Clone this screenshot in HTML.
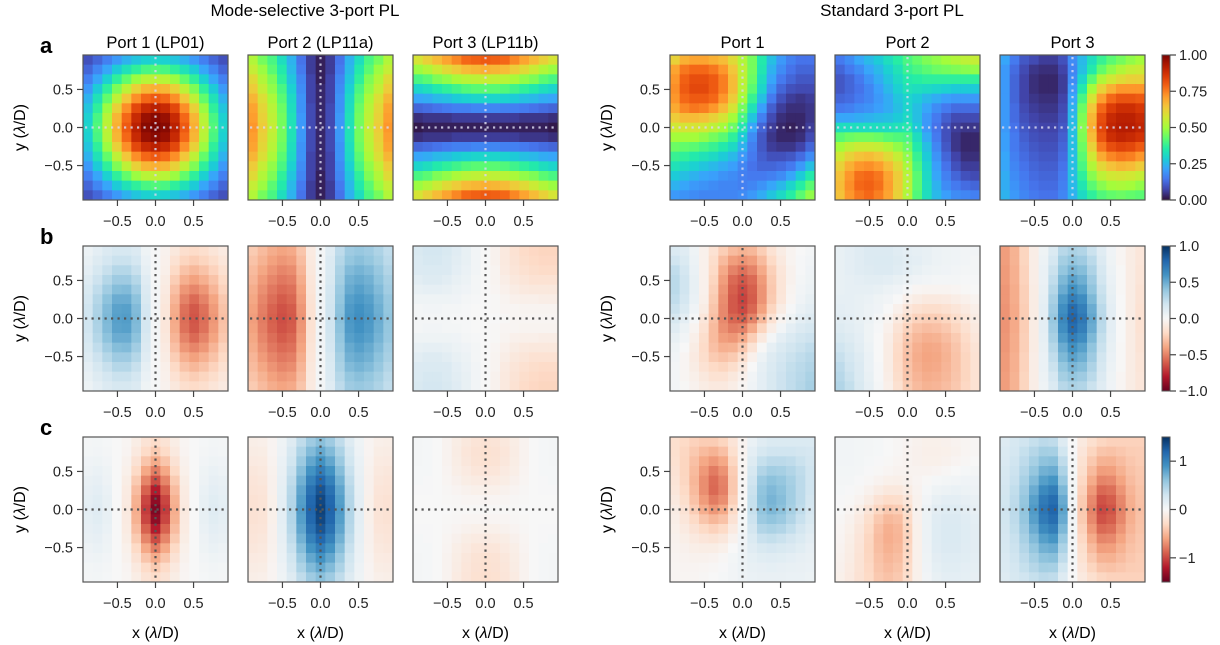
<!DOCTYPE html>
<html><head><meta charset="utf-8">
<style>
html,body{margin:0;padding:0;background:#fff;}
svg{display:block;font-family:"Liberation Sans",sans-serif;}
</style></head>
<body>
<svg id="fig" width="1220" height="645" viewBox="0 0 1220 645" xmlns="http://www.w3.org/2000/svg">
<defs id="defs"></defs>
<text x="305" y="16" font-size="17" text-anchor="middle">Mode-selective 3-port PL</text>
<text x="892" y="16" font-size="17" text-anchor="middle">Standard 3-port PL</text>
<text x="155.5" y="48" font-size="16.5" text-anchor="middle">Port 1 (LP01)</text>
<text x="320.5" y="48" font-size="16.5" text-anchor="middle">Port 2 (LP11a)</text>
<text x="485.5" y="48" font-size="16.5" text-anchor="middle">Port 3 (LP11b)</text>
<text x="742.5" y="48" font-size="16.5" text-anchor="middle">Port 1</text>
<text x="907.5" y="48" font-size="16.5" text-anchor="middle">Port 2</text>
<text x="1072.5" y="48" font-size="16.5" text-anchor="middle">Port 3</text>
<text x="40" y="53" font-size="22" font-weight="bold">a</text>
<text x="40" y="244" font-size="22" font-weight="bold">b</text>
<text x="40" y="435" font-size="22" font-weight="bold">c</text>
<g id="panels"></g>
</svg>
<script>
const xTickValues = [-0.5, 0, 0.5];
const xTickLabels = ["\u22120.5", "0.0", "0.5"];
const yTickValues = [0.5, 0, -0.5];
const yTickLabels = ["0.5", "0.0", "\u22120.5"];
const cbTicksA = [1.0, 0.75, 0.5, 0.25, 0.0];
const cbLabelsA = ["1.00", "0.75", "0.50", "0.25", "0.00"];
const cbTicksB = [1, 0.5, 0, -0.5, -1];
const cbLabelsB = ["1.0", "0.5", "0.0", "\u22120.5", "\u22121.0"];
const cbTicksC = [1, 0, -1];
const cbLabelsC = ["1", "0", "\u22121"];

const a1 = [
[9,12,16,20,24,27,29,30,29,27,24,20,16,12,9],
[12,17,22,28,33,37,40,41,40,37,33,28,22,17,12],
[16,22,29,37,43,49,53,54,53,49,43,37,29,22,16],
[20,28,37,46,54,62,67,68,67,62,54,46,37,28,20],
[24,33,43,54,64,73,78,80,78,73,64,54,43,33,24],
[27,37,49,62,73,83,89,91,89,83,73,62,49,37,27],
[29,40,53,67,78,89,96,98,96,89,78,67,53,40,29],
[30,41,54,68,80,91,98,100,98,91,80,68,54,41,30],
[29,40,53,67,78,89,96,98,96,89,78,67,53,40,29],
[27,37,49,62,73,83,89,91,89,83,73,62,49,37,27],
[24,33,43,54,64,73,78,80,78,73,64,54,43,33,24],
[20,28,37,46,54,62,67,68,67,62,54,46,37,28,20],
[16,22,29,37,43,49,53,54,53,49,43,37,29,22,16],
[12,17,22,28,33,37,40,41,40,37,33,28,22,17,12],
[9,12,16,20,24,27,29,30,29,27,24,20,16,12,9]];
const a2 = [
[52,45,40,32,24,14,6,2,6,14,24,32,40,45,52],
[55,49,42,35,25,15,6,2,6,15,25,35,42,49,55],
[60,52,46,37,27,17,7,2,7,17,27,37,46,52,60],
[63,55,48,40,29,18,7,3,7,18,29,40,48,55,63],
[67,59,51,42,31,19,7,3,7,19,31,42,51,59,67],
[70,61,53,44,32,19,8,3,8,19,32,44,53,61,70],
[71,62,54,45,33,20,8,3,8,20,33,45,54,62,71],
[72,63,55,45,33,20,8,3,8,20,33,45,55,63,72],
[71,62,54,45,33,20,8,3,8,20,33,45,54,62,71],
[70,61,53,44,32,19,8,3,8,19,32,44,53,61,70],
[67,59,51,42,31,19,7,3,7,19,31,42,51,59,67],
[63,55,48,40,29,18,7,3,7,18,29,40,48,55,63],
[60,52,46,37,27,17,7,2,7,17,27,37,46,52,60],
[55,49,42,35,25,15,6,2,6,15,25,35,42,49,55],
[52,45,40,32,24,14,6,2,6,14,24,32,40,45,52]];
const a3 = [
[58,62,66,70,74,78,79,80,79,78,74,70,66,62,58],
[49,52,56,60,63,66,67,68,67,66,63,60,56,52,49],
[40,42,46,48,51,53,54,55,54,53,51,48,46,42,40],
[30,32,35,37,39,41,42,42,42,41,39,37,35,32,30],
[22,23,25,26,28,29,30,30,30,29,28,26,25,23,22],
[12,13,14,15,16,16,17,17,17,16,16,15,14,13,12],
[4,5,5,5,6,6,6,6,6,6,6,5,5,5,4],
[1,2,2,2,2,2,2,2,2,2,2,2,2,2,1],
[4,5,5,5,6,6,6,6,6,6,6,5,5,5,4],
[12,13,14,15,16,16,17,17,17,16,16,15,14,13,12],
[22,23,25,26,28,29,30,30,30,29,28,26,25,23,22],
[30,32,35,37,39,41,42,42,42,41,39,37,35,32,30],
[40,42,46,48,51,53,54,55,54,53,51,48,46,42,40],
[49,52,56,60,63,66,67,68,67,66,63,60,56,52,49],
[58,62,66,70,74,78,79,80,79,78,74,70,66,62,58]];
const a4 = [
[62,68,70,70,68,66,60,52,45,35,26,20,16,14,14],
[70,76,78,78,76,72,64,54,45,34,24,18,14,12,12],
[72,79,82,82,80,75,66,54,44,32,22,15,12,10,10],
[73,80,83,83,80,75,66,53,42,30,19,12,9,8,8],
[72,78,80,80,78,72,63,50,38,26,15,9,6,5,6],
[69,74,76,75,72,66,58,45,33,21,11,6,4,4,5],
[63,66,66,65,62,58,50,40,27,16,8,4,3,3,5],
[57,58,58,57,54,50,44,34,22,12,6,3,2,3,6],
[50,50,50,48,45,42,37,28,18,10,5,3,3,4,8],
[44,43,42,40,38,35,31,24,16,10,6,5,5,7,12],
[38,37,35,33,31,28,25,20,15,11,9,9,10,13,18],
[33,31,29,27,25,23,21,17,14,12,12,13,15,20,26],
[28,26,24,22,21,19,18,16,15,15,16,18,22,28,35],
[24,22,20,19,18,17,17,16,17,19,22,25,30,36,42],
[20,19,18,17,17,17,17,18,20,23,27,31,36,42,48]];
const a5 = [
[15,18,22,25,28,32,36,40,43,46,48,50,52,54,55],
[12,15,18,22,25,29,33,38,40,42,44,45,46,47,48],
[10,12,15,19,23,27,31,35,36,37,37,37,37,37,37],
[10,12,14,17,21,25,29,33,32,31,30,29,28,28,28],
[12,13,15,17,20,23,27,30,28,25,23,21,20,20,20],
[15,16,18,19,21,23,26,30,26,22,18,15,13,13,13],
[22,22,23,24,25,26,28,31,26,20,15,11,8,8,8],
[32,32,32,32,32,32,33,35,28,20,14,9,6,5,5],
[42,44,45,45,44,42,41,40,32,23,15,9,5,3,3],
[50,54,56,56,55,52,48,44,35,26,17,10,5,3,3],
[57,62,65,66,64,60,55,48,38,28,19,12,7,4,4],
[62,68,72,73,71,66,60,51,40,30,21,14,9,6,6],
[65,72,77,78,76,70,63,53,42,31,22,16,12,9,8],
[66,73,78,79,77,71,63,53,42,32,24,18,15,13,12],
[65,72,76,78,75,70,62,52,41,32,25,21,18,17,16]];
const a6 = [
[22,15,10,8,6,6,9,18,25,32,38,42,45,48,50],
[20,13,8,5,4,4,7,17,26,35,43,48,52,55,56],
[20,12,7,4,3,3,6,18,30,42,52,57,60,62,62],
[20,12,7,4,3,3,6,20,35,50,62,68,72,72,72],
[20,12,7,5,4,4,7,22,40,58,71,78,81,81,80],
[20,13,8,6,5,5,8,24,44,64,78,85,88,88,86],
[20,13,9,7,6,6,9,25,46,67,82,89,91,91,89],
[20,14,10,8,7,7,10,26,47,68,83,90,92,92,90],
[21,15,11,9,8,8,11,26,46,66,81,88,90,89,87],
[21,15,12,10,9,9,12,26,44,62,76,82,84,83,80],
[22,16,13,11,10,10,13,26,42,57,69,74,76,75,72],
[22,17,14,12,11,11,14,26,40,52,61,65,67,66,63],
[23,18,15,13,12,12,15,26,37,47,54,57,58,57,55],
[23,19,16,14,13,13,16,25,34,42,47,50,51,50,48],
[24,20,17,15,14,14,17,24,31,37,41,43,44,43,42]];
const b1 = [
[6,10,14,17,17,14,5,1,-4,-11,-17,-19,-17,-13,-9],
[8,13,18,22,22,18,7,1,-5,-15,-22,-25,-22,-18,-12],
[10,17,23,29,29,23,9,1,-6,-20,-29,-33,-29,-23,-16],
[13,21,29,36,36,29,12,1,-8,-25,-36,-41,-36,-29,-20],
[16,25,35,43,44,35,14,2,-9,-30,-44,-49,-44,-34,-23],
[18,29,41,50,50,41,16,2,-11,-34,-50,-57,-50,-40,-27],
[20,31,44,54,55,44,18,2,-12,-37,-55,-62,-55,-43,-29],
[20,32,45,55,56,45,18,2,-12,-38,-56,-63,-56,-44,-30],
[20,31,44,54,55,44,18,2,-12,-37,-55,-62,-55,-43,-29],
[18,29,41,50,50,41,16,2,-11,-34,-50,-57,-50,-40,-27],
[16,25,35,43,44,35,14,2,-9,-30,-44,-49,-44,-34,-23],
[13,21,29,36,36,29,12,1,-8,-25,-36,-41,-36,-29,-20],
[10,17,23,29,29,23,9,1,-6,-20,-29,-33,-29,-23,-16],
[8,13,18,22,22,18,7,1,-5,-15,-22,-25,-22,-18,-12],
[6,10,14,17,17,14,5,1,-4,-11,-17,-19,-17,-13,-9]];
const b2 = [
[-26,-32,-37,-40,-38,-28,-9,2,12,26,36,38,36,31,25],
[-29,-35,-41,-44,-42,-31,-10,2,14,29,39,42,39,34,27],
[-32,-39,-45,-49,-47,-34,-11,2,15,32,44,47,44,38,30],
[-34,-43,-49,-53,-51,-37,-12,2,16,34,48,51,48,41,33],
[-37,-46,-53,-57,-55,-40,-13,3,18,37,51,55,51,44,35],
[-39,-49,-56,-61,-58,-42,-14,3,19,39,55,58,55,47,38],
[-41,-51,-59,-64,-61,-44,-15,3,20,41,57,61,57,49,39],
[-42,-52,-60,-65,-62,-45,-15,3,20,42,58,62,58,50,40],
[-41,-51,-59,-64,-61,-44,-15,3,20,41,57,61,57,49,39],
[-39,-49,-56,-61,-58,-42,-14,3,19,39,55,58,55,47,38],
[-37,-46,-53,-57,-55,-40,-13,3,18,37,51,55,51,44,35],
[-34,-43,-49,-53,-51,-37,-12,2,16,34,48,51,48,41,33],
[-32,-39,-45,-49,-47,-34,-11,2,15,32,44,47,44,38,30],
[-29,-35,-41,-44,-42,-31,-10,2,14,29,39,42,39,34,27],
[-26,-32,-37,-40,-38,-28,-9,2,12,26,36,38,36,31,25]];
const b3 = [
[16,18,18,16,12,8,3,0,-4,-10,-15,-19,-21,-22,-22],
[15,17,17,15,11,8,3,0,-4,-10,-14,-18,-20,-21,-21],
[14,15,15,14,10,7,3,0,-3,-9,-13,-16,-18,-19,-19],
[11,13,13,11,8,6,2,0,-3,-7,-11,-13,-15,-15,-15],
[8,9,9,8,6,4,2,0,-2,-5,-8,-10,-11,-11,-11],
[5,5,5,5,4,2,1,0,-1,-3,-5,-6,-6,-7,-7],
[2,3,3,2,2,1,0,0,-1,-2,-2,-3,-3,-3,-3],
[2,2,2,2,1,1,0,0,0,-1,-2,-2,-2,-2,-2],
[2,3,3,2,2,1,0,0,-1,-2,-2,-3,-3,-3,-3],
[5,5,5,5,4,2,1,0,-1,-3,-5,-6,-6,-7,-7],
[8,9,9,8,6,4,2,0,-2,-5,-8,-10,-11,-11,-11],
[11,13,13,11,8,6,2,0,-3,-7,-11,-13,-15,-15,-15],
[14,15,15,14,10,7,3,0,-3,-9,-13,-16,-18,-19,-19],
[15,17,17,15,11,8,3,0,-4,-10,-14,-18,-20,-21,-21],
[16,18,18,16,12,8,3,0,-4,-10,-15,-19,-21,-22,-22]];
const b4 = [
[15,12,5,-5,-15,-25,-32,-35,-33,-25,-15,-8,-3,0,2],
[20,15,6,-5,-18,-32,-42,-45,-42,-32,-20,-10,-3,1,3],
[25,18,7,-5,-20,-38,-50,-55,-50,-38,-24,-12,-4,1,4],
[27,20,8,-5,-22,-42,-57,-62,-57,-43,-26,-13,-4,2,5],
[27,20,8,-5,-24,-45,-60,-66,-60,-45,-27,-13,-3,3,6],
[25,18,7,-6,-26,-47,-62,-68,-61,-45,-26,-12,-2,4,8],
[22,15,4,-8,-28,-48,-62,-66,-58,-41,-22,-8,1,7,10],
[17,10,1,-12,-30,-48,-58,-60,-50,-33,-15,-3,5,10,13],
[12,6,-3,-15,-32,-46,-52,-50,-38,-22,-7,3,10,14,17],
[8,3,-6,-18,-32,-42,-44,-38,-25,-10,2,10,15,19,21],
[5,0,-8,-19,-30,-36,-35,-27,-14,-1,9,15,19,22,25],
[3,-2,-9,-18,-26,-29,-26,-17,-5,6,13,18,22,25,28],
[2,-2,-8,-15,-20,-22,-18,-10,0,9,15,20,24,27,30],
[2,-2,-6,-11,-15,-15,-11,-5,3,10,16,21,25,28,32],
[2,-1,-4,-8,-10,-10,-7,-2,4,10,16,21,25,29,33]];
const b5 = [
[8,10,12,14,14,14,12,10,9,8,6,5,4,3,3],
[8,10,12,14,15,15,13,11,10,8,6,5,4,3,2],
[8,10,12,13,14,14,12,10,8,6,5,4,3,2,2],
[8,9,10,11,11,10,8,6,4,3,2,2,2,1,1],
[8,9,9,9,8,6,4,1,-2,-3,-3,-3,-2,-1,0],
[9,9,8,7,5,3,0,-5,-8,-10,-10,-9,-7,-5,-3],
[10,9,8,6,4,0,-5,-12,-16,-18,-18,-16,-13,-9,-6],
[11,10,8,6,2,-3,-10,-18,-23,-25,-25,-22,-18,-13,-8],
[13,11,9,5,1,-5,-14,-23,-29,-31,-30,-27,-22,-16,-10],
[16,13,10,5,0,-7,-17,-27,-33,-36,-35,-31,-26,-19,-12],
[20,16,11,6,0,-8,-19,-29,-36,-39,-38,-34,-28,-21,-14],
[23,18,13,7,0,-8,-20,-30,-37,-40,-39,-35,-29,-22,-15],
[26,20,14,7,1,-8,-19,-29,-36,-39,-38,-34,-29,-22,-15],
[28,22,15,8,1,-7,-18,-28,-34,-37,-36,-33,-28,-22,-15],
[30,24,16,9,2,-6,-16,-26,-32,-35,-34,-31,-27,-21,-15]];
const b6 = [
[-42,-35,-22,-7,5,15,28,32,30,22,12,4,-2,-8,-12],
[-42,-35,-22,-7,6,18,34,39,36,27,14,5,-2,-8,-12],
[-43,-36,-23,-7,7,22,39,46,43,31,17,6,-1,-8,-13],
[-43,-36,-23,-7,7,25,45,54,49,36,19,7,-1,-8,-13],
[-44,-37,-24,-8,8,29,50,61,55,40,22,8,-1,-8,-14],
[-44,-37,-24,-8,9,33,57,69,63,45,24,9,0,-8,-14],
[-45,-38,-25,-8,10,36,62,77,69,50,27,10,0,-8,-15],
[-45,-38,-25,-8,10,38,65,80,72,52,28,10,0,-8,-15],
[-45,-38,-25,-8,10,36,62,77,69,50,27,10,0,-8,-15],
[-44,-37,-24,-8,9,33,57,69,63,45,24,9,0,-8,-14],
[-44,-37,-24,-8,8,29,50,61,55,40,22,8,-1,-8,-14],
[-43,-36,-23,-7,7,25,45,54,49,36,19,7,-1,-8,-13],
[-43,-36,-23,-7,7,22,39,46,43,31,17,6,-1,-8,-13],
[-42,-35,-22,-7,6,18,34,39,36,27,14,5,-2,-8,-12],
[-42,-35,-22,-7,5,15,28,32,30,22,12,4,-2,-8,-12]];
const c1 = [
[3,4,2,0,-3,-11,-21,-28,-21,-11,-3,0,2,4,3],
[4,5,3,0,-4,-15,-29,-39,-29,-15,-4,0,3,5,4],
[6,7,5,0,-6,-22,-42,-56,-42,-22,-6,0,5,7,6],
[8,10,7,0,-8,-30,-58,-77,-58,-30,-8,0,7,10,8],
[11,13,8,0,-11,-39,-74,-98,-74,-39,-11,0,8,13,11],
[13,15,10,0,-13,-47,-89,-119,-89,-47,-13,0,10,15,13],
[14,17,12,0,-14,-53,-101,-134,-101,-53,-14,0,12,17,14],
[15,18,12,0,-15,-55,-105,-140,-105,-55,-15,0,12,18,15],
[14,17,12,0,-14,-53,-101,-134,-101,-53,-14,0,12,17,14],
[13,15,10,0,-13,-47,-89,-119,-89,-47,-13,0,10,15,13],
[11,13,8,0,-11,-39,-74,-98,-74,-39,-11,0,8,13,11],
[8,10,7,0,-8,-30,-58,-77,-58,-30,-8,0,7,10,8],
[6,7,5,0,-6,-22,-42,-56,-42,-22,-6,0,5,7,6],
[4,5,3,0,-4,-15,-29,-39,-29,-15,-4,0,3,5,4],
[3,4,2,0,-3,-11,-21,-28,-21,-11,-3,0,2,4,3]];
const c2 = [
[-10,-9,-4,7,20,38,54,63,54,38,20,7,-4,-9,-10],
[-12,-11,-4,8,25,47,66,77,66,47,25,8,-4,-11,-12],
[-14,-13,-5,10,29,55,78,91,78,55,29,10,-5,-13,-14],
[-17,-15,-6,11,34,64,90,105,90,64,34,11,-6,-15,-17],
[-19,-17,-7,13,38,72,102,119,102,72,38,13,-7,-17,-19],
[-20,-19,-7,14,42,79,112,130,112,79,42,14,-7,-19,-20],
[-22,-20,-8,15,44,83,118,137,118,83,44,15,-8,-20,-22],
[-22,-20,-8,15,45,85,120,140,120,85,45,15,-8,-20,-22],
[-22,-20,-8,15,44,83,118,137,118,83,44,15,-8,-20,-22],
[-20,-19,-7,14,42,79,112,130,112,79,42,14,-7,-19,-20],
[-19,-17,-7,13,38,72,102,119,102,72,38,13,-7,-17,-19],
[-17,-15,-6,11,34,64,90,105,90,64,34,11,-6,-15,-17],
[-14,-13,-5,10,29,55,78,91,78,55,29,10,-5,-13,-14],
[-12,-11,-4,8,25,47,66,77,66,47,25,8,-4,-11,-12],
[-10,-9,-4,7,20,38,54,63,54,38,20,7,-4,-9,-10]];
const c3 = [
[3,2,0,-5,-11,-16,-20,-22,-20,-16,-11,-5,0,2,3],
[3,2,0,-5,-12,-18,-22,-24,-22,-18,-12,-5,0,2,3],
[3,2,0,-5,-11,-17,-21,-23,-21,-17,-11,-5,0,2,3],
[2,2,0,-4,-10,-14,-18,-19,-18,-14,-10,-4,0,2,2],
[2,1,0,-3,-7,-11,-13,-14,-13,-11,-7,-3,0,1,2],
[1,1,0,-2,-4,-6,-8,-8,-8,-6,-4,-2,0,1,1],
[0,0,0,-1,-2,-3,-3,-4,-3,-3,-2,-1,0,0,0],
[0,0,0,0,-1,-1,-1,-1,-1,-1,-1,0,0,0,0],
[0,0,0,-1,-2,-3,-3,-4,-3,-3,-2,-1,0,0,0],
[1,1,0,-2,-4,-6,-8,-8,-8,-6,-4,-2,0,1,1],
[2,1,0,-3,-7,-11,-13,-14,-13,-11,-7,-3,0,1,2],
[2,2,0,-4,-10,-14,-18,-19,-18,-14,-10,-4,0,2,2],
[3,2,0,-5,-11,-17,-21,-23,-21,-17,-11,-5,0,2,3],
[3,2,0,-5,-12,-18,-22,-24,-22,-18,-12,-5,0,2,3],
[3,2,0,-5,-13,-19,-23,-25,-23,-19,-13,-5,0,2,3]];
const c4 = [
[-25,-30,-35,-38,-38,-33,-20,-5,10,18,22,22,22,22,22],
[-25,-32,-40,-48,-52,-45,-25,-5,15,25,30,30,30,28,26],
[-24,-33,-45,-58,-65,-58,-32,-3,20,35,40,40,38,33,28],
[-22,-33,-48,-65,-78,-68,-38,-3,25,45,52,50,45,38,30],
[-20,-32,-50,-70,-85,-75,-40,-2,30,55,62,58,50,40,30],
[-18,-30,-48,-70,-86,-76,-40,-2,33,60,67,62,52,40,30],
[-15,-26,-44,-64,-78,-70,-36,-1,35,62,70,64,52,40,28],
[-12,-22,-38,-55,-66,-58,-30,0,35,60,68,62,50,38,26],
[-10,-18,-30,-42,-50,-44,-22,2,32,55,60,55,45,34,24],
[-8,-14,-22,-30,-35,-30,-14,4,28,45,48,45,37,28,20],
[-6,-10,-15,-19,-21,-17,-6,6,22,34,36,33,28,22,16],
[-5,-7,-10,-11,-11,-8,0,8,18,24,26,24,21,17,13],
[-4,-5,-6,-6,-5,-2,4,9,14,17,18,17,15,13,11],
[-3,-4,-4,-3,-2,1,5,9,12,13,14,13,12,11,10],
[-3,-3,-3,-2,0,2,5,8,10,11,11,11,10,10,9]];
const c5 = [
[5,5,4,3,2,0,-2,-4,-6,-8,-8,-7,-5,-3,-2],
[5,5,4,3,2,0,-2,-5,-7,-9,-9,-8,-6,-3,-2],
[5,5,4,2,1,-1,-3,-5,-7,-8,-8,-6,-4,-2,0],
[4,4,3,1,-1,-3,-5,-5,-5,-5,-4,-2,0,2,3],
[3,3,1,-2,-5,-8,-9,-7,-4,-1,2,4,5,6,6],
[2,1,-2,-6,-12,-16,-16,-12,-5,2,7,9,10,9,8],
[1,-1,-5,-12,-22,-28,-27,-18,-6,5,12,15,15,13,11],
[0,-3,-10,-20,-32,-40,-38,-25,-6,8,16,19,19,16,13],
[-2,-6,-14,-26,-40,-49,-46,-30,-7,9,18,21,21,18,15],
[-3,-8,-17,-30,-45,-54,-50,-33,-8,9,19,22,22,19,16],
[-4,-10,-19,-32,-47,-55,-51,-34,-8,9,19,22,22,19,16],
[-5,-11,-20,-33,-46,-53,-49,-32,-8,8,18,21,21,18,16],
[-6,-12,-21,-32,-44,-50,-46,-31,-8,7,16,19,19,17,15],
[-7,-13,-21,-31,-42,-47,-43,-29,-8,6,14,17,17,15,14],
[-8,-14,-22,-30,-40,-44,-40,-27,-8,5,12,15,15,14,13]];
const c6 = [
[20,25,30,35,40,38,20,0,-15,-25,-32,-35,-35,-35,-35],
[22,27,35,43,51,50,29,1,-19,-33,-42,-44,-41,-38,-37],
[23,30,39,50,61,63,38,2,-23,-40,-52,-53,-47,-41,-38],
[25,32,44,58,72,75,47,2,-26,-48,-63,-62,-53,-44,-40],
[26,34,49,66,83,89,57,3,-31,-56,-74,-72,-60,-47,-41],
[28,37,54,75,96,104,68,4,-35,-65,-86,-83,-67,-51,-43],
[29,39,58,82,106,115,76,5,-39,-72,-96,-91,-73,-54,-44],
[30,40,60,85,110,120,80,5,-40,-75,-100,-95,-75,-55,-45],
[29,39,58,82,106,115,76,5,-39,-72,-96,-91,-73,-54,-44],
[28,37,54,75,96,104,68,4,-35,-65,-86,-83,-67,-51,-43],
[26,34,49,66,83,89,57,3,-31,-56,-74,-72,-60,-47,-41],
[25,32,44,58,72,75,47,2,-26,-48,-63,-62,-53,-44,-40],
[23,30,39,50,61,63,38,2,-23,-40,-52,-53,-47,-41,-38],
[22,27,35,43,51,50,29,1,-19,-33,-42,-44,-41,-38,-37],
[20,25,30,35,40,38,20,0,-15,-25,-32,-35,-35,-35,-35]];

const TURBO = ["#30123b","#4145ab","#4675ed","#39a2fc","#1bcfd4","#24eca6","#61fc6c","#a4fc3b","#d1e834","#f3c63a","#fe9b2d","#f36315","#d93806","#b11901","#7a0403"];
const RDBU = ["#67001f","#b2182b","#d6604d","#f4a582","#fddbc7","#f7f7f7","#d1e5f0","#92c5de","#4393c3","#2166ac","#053061"];
function hex2rgb(h){return [parseInt(h.substr(1,2),16),parseInt(h.substr(3,2),16),parseInt(h.substr(5,2),16)];}
function cmap(stops,t){
  t=Math.max(0,Math.min(1,t));
  const p=t*(stops.length-1), i=Math.min(Math.floor(p),stops.length-2), f=p-i;
  const a=hex2rgb(stops[i]), b=hex2rgb(stops[i+1]);
  return "rgb("+a.map((v,k)=>Math.round(v+(b[k]-v)*f)).join(",")+")";
}
const NS="http://www.w3.org/2000/svg";
const root=document.getElementById("panels");
const defs=document.getElementById("defs");
function el(tag,attrs,parent){const e=document.createElementNS(NS,tag);for(const k in attrs)e.setAttribute(k,attrs[k]);(parent||root).appendChild(e);return e;}

const PW=145, EXT=0.9525, N=15, STEP=2*EXT/N;
function xS(px,v){return px+(v+EXT)/(2*EXT)*PW;}
function yS(py,v){return py+(EXT-v)/(2*EXT)*PW;}

const rows=[
 {y:55, panels:[a1,a2,a3,a4,a5,a6], stops:TURBO, vmin:0, vmax:100, dot:"#d8d8ee", name:"intensity"},
 {y:246, panels:[b1,b2,b3,b4,b5,b6], stops:RDBU, vmin:-100, vmax:100, dot:"#555", name:"real"},
 {y:437, panels:[c1,c2,c3,c4,c5,c6], stops:RDBU, vmin:-150, vmax:150, dot:"#555", name:"imag"}];
const colX=[83,248,413,670,835,1000];

rows.forEach((row,ri)=>{
  row.panels.forEach((data,pi)=>{
    const px=colX[pi], py=row.y;
    const g=el("g",{});
    
    
    data.forEach((r,i)=>{
      r.forEach((v,j)=>{
        const x0=xS(px,(j-7.5)*STEP), y0=yS(py,(7.5-i)*STEP);
        const c=el("rect",{x:x0.toFixed(2),y:y0.toFixed(2),width:(PW/N+0.4).toFixed(2),height:(PW/N+0.4).toFixed(2),fill:cmap(row.stops,(v-row.vmin)/(row.vmax-row.vmin))},g);
        
        
      });
    });
    const vl=el("line",{x1:xS(px,0),x2:xS(px,0),y1:py+2,y2:py+PW-1,stroke:row.dot,"stroke-width":2.2,"stroke-dasharray":"2.2,4.3","stroke-opacity":ri===0?0.85:1});
    
    
    const hl=el("line",{x1:px+2,x2:px+PW-1,y1:yS(py,0),y2:yS(py,0),stroke:row.dot,"stroke-width":2.2,"stroke-dasharray":"2.2,4.3","stroke-opacity":ri===0?0.85:1});
    
    
    const fr=el("rect",{x:px,y:py,width:PW,height:PW,fill:"none",stroke:"#555","stroke-width":1.2});
    
    
    xTickValues.forEach((tv,k)=>{
      const xx=xS(px,tv);
      const t=el("line",{x1:xx,x2:xx,y1:py+PW,y2:py+PW+6,stroke:"#444","stroke-width":1.2});
      
      
      const tl=el("text",{x:xx,y:py+PW+26,"font-size":14.5,"text-anchor":"middle",fill:"#222"});
      tl.textContent=xTickLabels[k];
      
      
    });
    if(pi===0||pi===3){
      yTickValues.forEach((tv,k)=>{
        const yy=yS(py,tv);
        const t=el("line",{x1:px-6,x2:px,y1:yy,y2:yy,stroke:"#444","stroke-width":1.2});
        
        
        const tl=el("text",{x:px-10,y:yy+5,"font-size":14.5,"text-anchor":"end",fill:"#222"});
        tl.textContent=yTickLabels[k];
        
        
      });
      const yt=el("text",{x:0,y:0,"font-size":16,"text-anchor":"middle",transform:"translate("+(px-58)+","+(py+PW/2)+") rotate(-90)"});
      yt.innerHTML='y (<tspan font-style="italic">λ</tspan>/D)';
      
      
    }
    if(ri===2){
      const xt=el("text",{x:px+PW/2,y:638,"font-size":16,"text-anchor":"middle"});
      xt.innerHTML='x (<tspan font-style="italic">λ</tspan>/D)';
      
      
    }
  });
  const gid="cbg"+ri;
  const lg=el("linearGradient",{id:gid,x1:0,y1:1,x2:0,y2:0},defs);
  for(let s=0;s<=40;s++){el("stop",{offset:s/40,"stop-color":cmap(row.stops,s/40)},lg);}
  const cb=el("rect",{x:1162,y:row.y,width:8,height:PW,fill:"url(#"+gid+")",stroke:"#555","stroke-width":1});
  
  
  const ticks = ri===0?cbTicksA:(ri===1?cbTicksB:cbTicksC);
  const labels = ri===0?cbLabelsA:(ri===1?cbLabelsB:cbLabelsC);
  const lo=row.vmin/100, hi=row.vmax/100;
  ticks.forEach((tv,k)=>{
    const yy=row.y+(hi-tv)/(hi-lo)*PW;
    const t=el("line",{x1:1170,x2:1176,y1:yy,y2:yy,stroke:"#444","stroke-width":1.2});
    
    
    const tl=el("text",{x:1179,y:yy+5,"font-size":14.5,fill:"#222"});
    tl.textContent=labels[k];
    
    
  });
});
</script>
</body></html>
